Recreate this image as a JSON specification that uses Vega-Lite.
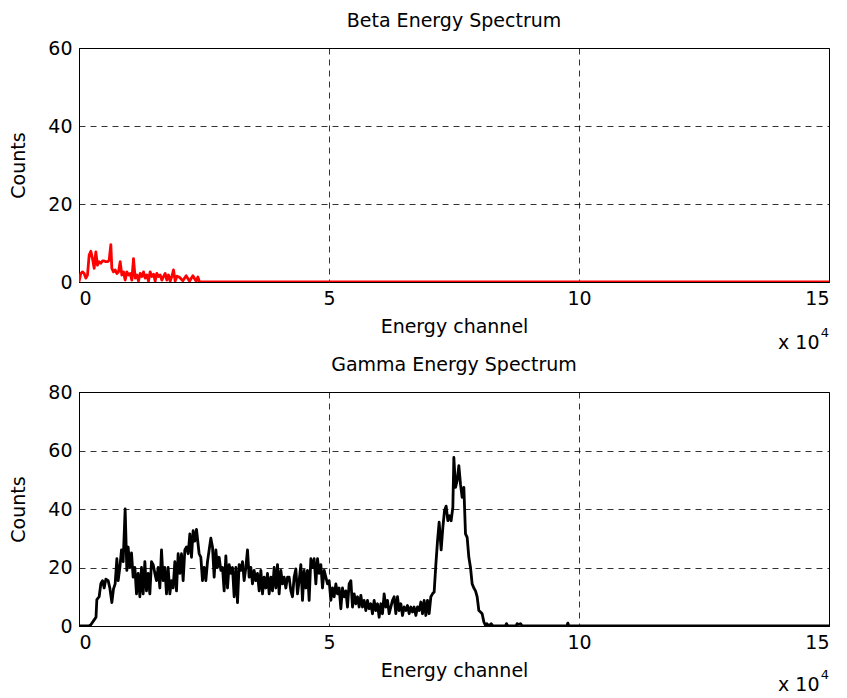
{
  "$schema": "https://vega.github.io/schema/vega-lite/v6.json",
  "background": "white",
  "padding": {"left": 9, "top": 11, "right": 5, "bottom": 5},
  "config": {
    "font": "DejaVu Sans",
    "view": {"stroke": "#000", "strokeWidth": 1},
    "axis": {
      "domainColor": "#000",
      "labelColor": "#000",
      "titleColor": "#000",
      "labelFont": "DejaVu Sans",
      "titleFont": "DejaVu Sans",
      "labelFontSize": 19,
      "titleFontSize": 19,
      "titleFontWeight": "normal",
      "ticks": false,
      "grid": true,
      "gridColor": "#000",
      "gridDash": [6, 5],
      "gridWidth": 0.8,
      "gridOpacity": 1,
      "labelPadding": 7
    },
    "axisX": {"titlePadding": 9},
    "axisY": {"titlePadding": 19},
    "title": {"fontSize": 19, "fontWeight": "normal", "color": "#000", "font": "DejaVu Sans", "offset": 8}
  },
  "datasets": {
    "beta": [
      {"c": 0, "n": 0}, {"c": 33, "n": 0.25}, {"c": 367, "n": 2.2}, {"c": 700, "n": 2.6}, {"c": 1033, "n": 2.2},
      {"c": 1367, "n": 1}, {"c": 1700, "n": 1.8}, {"c": 2033, "n": 6.9}, {"c": 2367, "n": 7.9}, {"c": 2700, "n": 6},
      {"c": 3033, "n": 3.5}, {"c": 3367, "n": 7.7}, {"c": 3700, "n": 4.3}, {"c": 4033, "n": 5.2}, {"c": 4367, "n": 4.8},
      {"c": 4700, "n": 5.4}, {"c": 5033, "n": 5.4}, {"c": 5367, "n": 5.2}, {"c": 5700, "n": 5.2}, {"c": 6033, "n": 5.6},
      {"c": 6367, "n": 9.6}, {"c": 6567, "n": 3.5}, {"c": 6900, "n": 2.6}, {"c": 7233, "n": 3.1}, {"c": 7567, "n": 2.2},
      {"c": 7900, "n": 2.6}, {"c": 8233, "n": 5.2}, {"c": 8567, "n": 1.8}, {"c": 8900, "n": 2.6}, {"c": 9233, "n": 0.5},
      {"c": 9567, "n": 2.6}, {"c": 9900, "n": 1.8}, {"c": 10233, "n": 2.2}, {"c": 10567, "n": 0.5}, {"c": 10900, "n": 6},
      {"c": 11233, "n": 1}, {"c": 11567, "n": 1.8}, {"c": 11900, "n": 0.25}, {"c": 12233, "n": 2.2}, {"c": 12567, "n": 1.4},
      {"c": 12900, "n": 2.6}, {"c": 13233, "n": 1}, {"c": 13567, "n": 1.8}, {"c": 13900, "n": 0.25}, {"c": 14233, "n": 2.6},
      {"c": 14567, "n": 1.4}, {"c": 14900, "n": 2}, {"c": 15233, "n": 0.25}, {"c": 15567, "n": 2.2}, {"c": 15900, "n": 1.4},
      {"c": 16233, "n": 1.8}, {"c": 16567, "n": 0.5}, {"c": 16900, "n": 1.4}, {"c": 17233, "n": 2.2}, {"c": 17567, "n": 0.5},
      {"c": 17900, "n": 1.8}, {"c": 18233, "n": 0.25}, {"c": 18567, "n": 1.4}, {"c": 18900, "n": 3.1}, {"c": 19233, "n": 0.25},
      {"c": 19600, "n": 1.5}, {"c": 20100, "n": 1.2}, {"c": 20770, "n": 0.3}, {"c": 21430, "n": 1.6}, {"c": 22100, "n": 0.2},
      {"c": 22770, "n": 1.6}, {"c": 23430, "n": 0.2}, {"c": 23770, "n": 1.3}, {"c": 24100, "n": 0}, {"c": 150000, "n": 0}
    ],
    "gamma": [
      {"c": 0, "n": 0}, {"c": 2000, "n": 0}, {"c": 2400, "n": 0.5}, {"c": 3000, "n": 2}, {"c": 3400, "n": 3},
      {"c": 3570, "n": 9}, {"c": 4030, "n": 10}, {"c": 4370, "n": 14.5}, {"c": 4700, "n": 15.5}, {"c": 5030, "n": 13},
      {"c": 5370, "n": 16}, {"c": 5830, "n": 15.5}, {"c": 6170, "n": 13}, {"c": 6570, "n": 8}, {"c": 6900, "n": 12.7},
      {"c": 7230, "n": 14.4}, {"c": 7570, "n": 23}, {"c": 7830, "n": 15.5}, {"c": 8170, "n": 20}, {"c": 8500, "n": 26},
      {"c": 8830, "n": 22}, {"c": 9230, "n": 40}, {"c": 9570, "n": 19}, {"c": 9830, "n": 27}, {"c": 10170, "n": 20},
      {"c": 10500, "n": 25}, {"c": 10830, "n": 16.7}, {"c": 11170, "n": 20}, {"c": 11500, "n": 11}, {"c": 11830, "n": 18},
      {"c": 12170, "n": 10}, {"c": 12500, "n": 20}, {"c": 12830, "n": 11}, {"c": 13170, "n": 22}, {"c": 13500, "n": 12},
      {"c": 13830, "n": 18}, {"c": 14170, "n": 11}, {"c": 14500, "n": 22}, {"c": 14830, "n": 21}, {"c": 15170, "n": 18},
      {"c": 15500, "n": 15.5}, {"c": 15830, "n": 20}, {"c": 16170, "n": 13}, {"c": 16500, "n": 26}, {"c": 16830, "n": 15.5},
      {"c": 17170, "n": 20}, {"c": 17500, "n": 11}, {"c": 17830, "n": 20}, {"c": 18170, "n": 11}, {"c": 18500, "n": 15.5},
      {"c": 18830, "n": 13}, {"c": 19170, "n": 22}, {"c": 19500, "n": 12}, {"c": 19830, "n": 24.7}, {"c": 20170, "n": 18},
      {"c": 20500, "n": 24.7}, {"c": 20830, "n": 15.5}, {"c": 21170, "n": 26}, {"c": 21500, "n": 27}, {"c": 21830, "n": 24.7},
      {"c": 22170, "n": 31.5}, {"c": 22500, "n": 23.5}, {"c": 22830, "n": 32.6}, {"c": 23170, "n": 29}, {"c": 23500, "n": 33},
      {"c": 24030, "n": 24.7}, {"c": 24370, "n": 23.5}, {"c": 24700, "n": 15.5}, {"c": 25030, "n": 20}, {"c": 25370, "n": 15.5},
      {"c": 25700, "n": 22}, {"c": 26030, "n": 26}, {"c": 26370, "n": 30}, {"c": 26700, "n": 27}, {"c": 27030, "n": 16.7},
      {"c": 27370, "n": 26}, {"c": 27700, "n": 20}, {"c": 28030, "n": 23.5}, {"c": 28370, "n": 19}, {"c": 28700, "n": 20},
      {"c": 29030, "n": 12}, {"c": 29370, "n": 24}, {"c": 29700, "n": 13}, {"c": 30030, "n": 21}, {"c": 30370, "n": 18},
      {"c": 30700, "n": 20}, {"c": 31030, "n": 10}, {"c": 31370, "n": 20}, {"c": 31700, "n": 8}, {"c": 32030, "n": 21},
      {"c": 32370, "n": 19}, {"c": 32700, "n": 22}, {"c": 33030, "n": 15.5}, {"c": 33370, "n": 20}, {"c": 33700, "n": 26},
      {"c": 34030, "n": 16.7}, {"c": 34370, "n": 20}, {"c": 34700, "n": 14.4}, {"c": 35030, "n": 19}, {"c": 35370, "n": 15.5},
      {"c": 35700, "n": 18}, {"c": 36030, "n": 12}, {"c": 36370, "n": 19}, {"c": 36700, "n": 11}, {"c": 37030, "n": 16.7},
      {"c": 37370, "n": 13}, {"c": 37700, "n": 18}, {"c": 38030, "n": 11}, {"c": 38370, "n": 16.7}, {"c": 38700, "n": 12},
      {"c": 39030, "n": 20}, {"c": 39370, "n": 13}, {"c": 39700, "n": 21}, {"c": 40030, "n": 11}, {"c": 40370, "n": 19},
      {"c": 40700, "n": 14.4}, {"c": 41030, "n": 16.7}, {"c": 41370, "n": 13}, {"c": 41700, "n": 16.7}, {"c": 42030, "n": 16.7},
      {"c": 42370, "n": 12}, {"c": 42700, "n": 10}, {"c": 43030, "n": 16.7}, {"c": 43370, "n": 19.5}, {"c": 43700, "n": 11},
      {"c": 44030, "n": 15.5}, {"c": 44370, "n": 21}, {"c": 44700, "n": 8.75}, {"c": 45030, "n": 19}, {"c": 45370, "n": 13},
      {"c": 45700, "n": 19}, {"c": 46030, "n": 8.75}, {"c": 46370, "n": 23}, {"c": 46700, "n": 20}, {"c": 47030, "n": 23},
      {"c": 47370, "n": 14.4}, {"c": 47700, "n": 23}, {"c": 48030, "n": 18}, {"c": 48370, "n": 21}, {"c": 48700, "n": 13},
      {"c": 49030, "n": 19}, {"c": 49370, "n": 16.7}, {"c": 49700, "n": 14.4}, {"c": 50030, "n": 15.5}, {"c": 50370, "n": 8.75},
      {"c": 50700, "n": 13}, {"c": 51030, "n": 10}, {"c": 51370, "n": 14.4}, {"c": 51700, "n": 11}, {"c": 52030, "n": 13},
      {"c": 52370, "n": 5.9}, {"c": 52700, "n": 13}, {"c": 53030, "n": 10}, {"c": 53370, "n": 12}, {"c": 53700, "n": 6.5},
      {"c": 54030, "n": 14.4}, {"c": 54370, "n": 15.5}, {"c": 54700, "n": 6.5}, {"c": 55030, "n": 11}, {"c": 55370, "n": 7.6},
      {"c": 55700, "n": 10}, {"c": 56030, "n": 6.5}, {"c": 56370, "n": 10.5}, {"c": 56700, "n": 6.5}, {"c": 57030, "n": 8.75},
      {"c": 57370, "n": 5.3}, {"c": 57700, "n": 8.75}, {"c": 58030, "n": 5.9}, {"c": 58370, "n": 7.6}, {"c": 58700, "n": 4.2},
      {"c": 59030, "n": 8.75}, {"c": 59370, "n": 5.3}, {"c": 59700, "n": 7.6}, {"c": 60030, "n": 3}, {"c": 60370, "n": 7.6},
      {"c": 60700, "n": 4.2}, {"c": 61030, "n": 11}, {"c": 61370, "n": 6.5}, {"c": 61700, "n": 8.75}, {"c": 62030, "n": 4.2},
      {"c": 62370, "n": 6.5}, {"c": 62700, "n": 8.75}, {"c": 63030, "n": 10}, {"c": 63370, "n": 4.2}, {"c": 63700, "n": 10},
      {"c": 64030, "n": 5.3}, {"c": 64370, "n": 7.6}, {"c": 64700, "n": 3.6}, {"c": 65030, "n": 6.5}, {"c": 65370, "n": 5.3},
      {"c": 65700, "n": 7}, {"c": 66030, "n": 4.2}, {"c": 66370, "n": 6.5}, {"c": 66700, "n": 4.8}, {"c": 67030, "n": 6.5},
      {"c": 67370, "n": 3.6}, {"c": 67700, "n": 6.5}, {"c": 68030, "n": 5.3}, {"c": 68370, "n": 8.2}, {"c": 68700, "n": 4.2},
      {"c": 69030, "n": 8.75}, {"c": 69370, "n": 3.6}, {"c": 69700, "n": 8.75}, {"c": 70030, "n": 4.2}, {"c": 70370, "n": 10},
      {"c": 70700, "n": 11}, {"c": 71030, "n": 11.6}, {"c": 71370, "n": 21}, {"c": 71700, "n": 29}, {"c": 72030, "n": 35.5},
      {"c": 72430, "n": 26}, {"c": 72770, "n": 33.75}, {"c": 73100, "n": 39.4}, {"c": 73430, "n": 41}, {"c": 73770, "n": 36},
      {"c": 74100, "n": 37.7}, {"c": 74430, "n": 36}, {"c": 74770, "n": 40.6}, {"c": 74970, "n": 57.6}, {"c": 75300, "n": 47.4},
      {"c": 75630, "n": 49.7}, {"c": 75970, "n": 54.8}, {"c": 76300, "n": 48.5}, {"c": 76630, "n": 44}, {"c": 76970, "n": 47.4},
      {"c": 77300, "n": 31.5}, {"c": 77630, "n": 30.3}, {"c": 77970, "n": 23.5}, {"c": 78300, "n": 20}, {"c": 78630, "n": 14.4},
      {"c": 78970, "n": 13}, {"c": 79300, "n": 12}, {"c": 79630, "n": 10}, {"c": 79970, "n": 5.3}, {"c": 80300, "n": 4.8},
      {"c": 80630, "n": 4.2}, {"c": 80970, "n": 1.4}, {"c": 81300, "n": 0.2}, {"c": 81570, "n": 0.8}, {"c": 81970, "n": 0},
      {"c": 82430, "n": 0.8}, {"c": 82770, "n": 0}, {"c": 85300, "n": 0}, {"c": 85500, "n": 0.8}, {"c": 85770, "n": 0},
      {"c": 87430, "n": 0}, {"c": 87630, "n": 0.8}, {"c": 87970, "n": 0.5}, {"c": 88300, "n": 0.8}, {"c": 88630, "n": 0},
      {"c": 97570, "n": 0}, {"c": 97770, "n": 1}, {"c": 97970, "n": 0}, {"c": 150000, "n": 0}
    ],
    "scaleNote": [{"t": "x 10", "e": "4"}]
  },
  "bounds": "flush",
  "spacing": 110,
  "vconcat": [
    {
      "title": "Beta Energy Spectrum",
      "width": 750,
      "height": 234,
      "layer": [
        {
          "data": {"name": "beta"},
          "mark": {"type": "line", "color": "#ff0000", "strokeWidth": 2.8, "strokeJoin": "round", "clip": true},
          "encoding": {
            "x": {"field": "c", "type": "quantitative", "scale": {"domain": [0, 150000], "nice": false},
                  "axis": {"values": [0, 50000, 100000, 150000], "labelExpr": "datum.value / 10000", "title": "Energy channel"}},
            "y": {"field": "n", "type": "quantitative", "scale": {"domain": [0, 60], "nice": false},
                  "axis": {"values": [0, 20, 40, 60], "title": "Counts"}}
          }
        },
        {
          "data": {"name": "scaleNote"},
          "mark": {"type": "text", "align": "right", "baseline": "alphabetic", "fontSize": 19, "color": "#000"},
          "encoding": {
            "x": {"datum": 148100, "type": "quantitative"},
            "y": {"datum": -17.2, "type": "quantitative"},
            "text": {"field": "t"}
          }
        },
        {
          "data": {"name": "scaleNote"},
          "mark": {"type": "text", "align": "right", "baseline": "alphabetic", "fontSize": 13, "dy": -12, "color": "#000"},
          "encoding": {
            "x": {"datum": 150000, "type": "quantitative"},
            "y": {"datum": -17.2, "type": "quantitative"},
            "text": {"field": "e"}
          }
        }
      ]
    },
    {
      "title": "Gamma Energy Spectrum",
      "width": 750,
      "height": 234,
      "layer": [
        {
          "data": {"name": "gamma"},
          "mark": {"type": "line", "color": "#000000", "strokeWidth": 2.8, "strokeJoin": "round", "clip": true},
          "encoding": {
            "x": {"field": "c", "type": "quantitative", "scale": {"domain": [0, 150000], "nice": false},
                  "axis": {"values": [0, 50000, 100000, 150000], "labelExpr": "datum.value / 10000", "title": "Energy channel"}},
            "y": {"field": "n", "type": "quantitative", "scale": {"domain": [0, 80], "nice": false},
                  "axis": {"values": [0, 20, 40, 60, 80], "title": "Counts"}}
          }
        },
        {
          "data": {"name": "scaleNote"},
          "mark": {"type": "text", "align": "right", "baseline": "alphabetic", "fontSize": 19, "color": "#000"},
          "encoding": {
            "x": {"datum": 148100, "type": "quantitative"},
            "y": {"datum": -22.3, "type": "quantitative"},
            "text": {"field": "t"}
          }
        },
        {
          "data": {"name": "scaleNote"},
          "mark": {"type": "text", "align": "right", "baseline": "alphabetic", "fontSize": 13, "dy": -12, "color": "#000"},
          "encoding": {
            "x": {"datum": 150000, "type": "quantitative"},
            "y": {"datum": -22.3, "type": "quantitative"},
            "text": {"field": "e"}
          }
        }
      ]
    }
  ]
}
